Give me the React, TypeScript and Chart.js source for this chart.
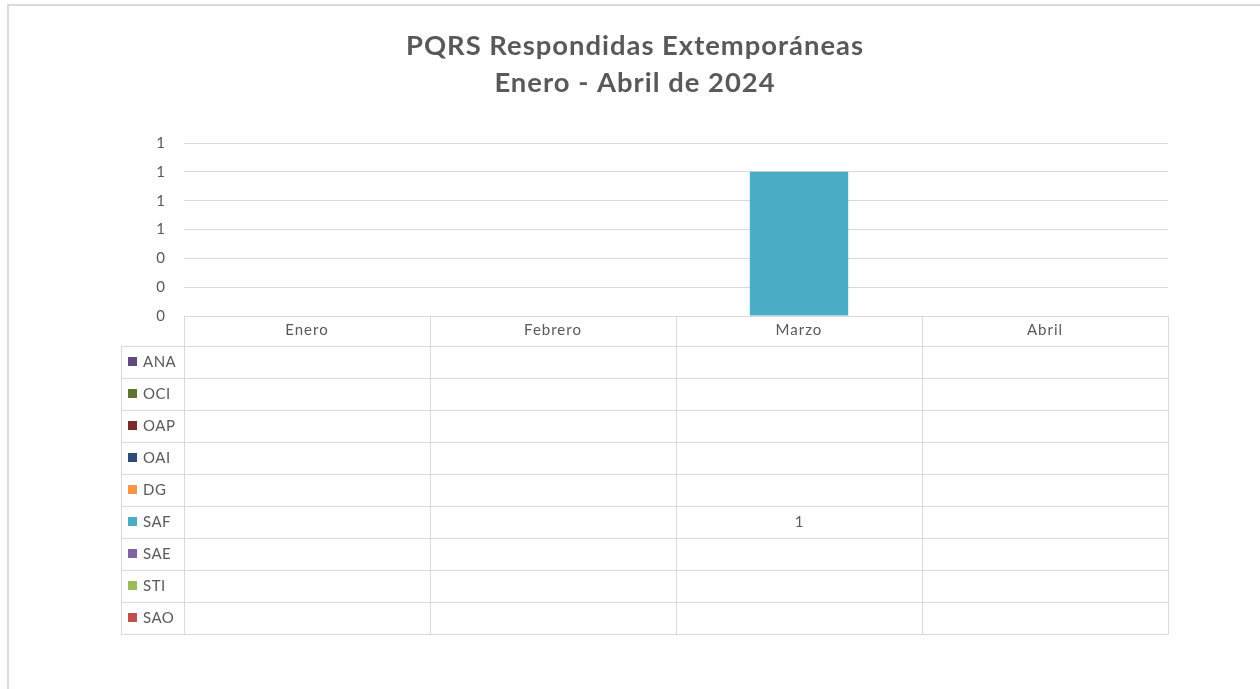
import React, { useEffect, useRef } from "react";
import { Chart, registerables } from "chart.js";

Chart.register(...registerables);

const months: string[] = ["Enero", "Febrero", "Marzo", "Abril"];
const seriesNames: string[] = ["ANA", "OCI", "OAP", "OAI", "DG", "SAF", "SAE", "STI", "SAO"];
const seriesColors: string[] = [
  "#5F4A7B",
  "#5E7530",
  "#772C2A",
  "#2C4D75",
  "#F79646",
  "#4BACC6",
  "#8064A2",
  "#9BBB59",
  "#C0504D",
];
const ANA: (number | null)[] = [null, null, null, null];
const OCI: (number | null)[] = [null, null, null, null];
const OAP: (number | null)[] = [null, null, null, null];
const OAI: (number | null)[] = [null, null, null, null];
const DG: (number | null)[] = [null, null, null, null];
const SAF: (number | null)[] = [null, null, 1, null];
const SAE: (number | null)[] = [null, null, null, null];
const STI: (number | null)[] = [null, null, null, null];
const SAO: (number | null)[] = [null, null, null, null];
const seriesValues = [ANA, OCI, OAP, OAI, DG, SAF, SAE, STI, SAO];
const titleLines: string[] = ["PQRS Respondidas Extemporáneas", "Enero - Abril de 2024"];
const yMin = 0;
const yMax = 1.2;
const yStep = 0.2;

const FONT = "Lato, 'Open Sans', sans-serif";
const TEXT = "#595959";
const GRID = "#d9d9d9";

const HEADER_H = 30;
const ROW_H = 32;
const LEGEND_W = 63;

const spacingPlugin = {
  id: "spacing",
  beforeLayout(chart: any) {
    chart.ctx.letterSpacing = "1px";
  },
  beforeDraw(chart: any) {
    chart.ctx.letterSpacing = "1px";
  },
};

const framePlugin = {
  id: "frame",
  beforeDraw(chart: any) {
    const ctx = chart.ctx;
    ctx.save();
    ctx.strokeStyle = GRID;
    ctx.lineWidth = 2;
    ctx.beginPath();
    ctx.moveTo(8, chart.height);
    ctx.lineTo(8, 5);
    ctx.lineTo(chart.width, 5);
    ctx.stroke();
    ctx.restore();
  },
};

const tablePlugin = {
  id: "dataTable",
  afterDraw(chart: any) {
    const ctx = chart.ctx;
    const { left, right, bottom } = chart.chartArea;
    const xs = chart.scales.x;
    const n = chart.data.labels.length;
    const cw = (right - left) / n;
    const top = bottom;
    const rowsTop = top + HEADER_H;
    const datasets = chart.data.datasets;
    const nRows = datasets.length;
    const tableBottom = rowsTop + nRows * ROW_H;
    const line = (x1: number, y1: number, x2: number, y2: number) => {
      ctx.beginPath();
      ctx.moveTo(x1, y1);
      ctx.lineTo(x2, y2);
      ctx.stroke();
    };
    ctx.save();
    ctx.strokeStyle = GRID;
    ctx.lineWidth = 1;
    line(left, Math.round(top) + 0.5, right, Math.round(top) + 0.5);
    for (let r = 0; r <= nRows; r++) {
      const y = Math.round(rowsTop + r * ROW_H) + 0.5;
      line(left - LEGEND_W, y, right, y);
    }
    for (let i = 0; i <= n; i++) {
      const X = Math.round(left + i * cw) + 0.5;
      line(X, top, X, tableBottom + 0.5);
    }
    const lx = Math.round(left - LEGEND_W) + 0.5;
    line(lx, rowsTop, lx, tableBottom + 0.5);

    ctx.textBaseline = "middle";
    datasets.forEach((ds: any, r: number) => {
      const cy = rowsTop + r * ROW_H + ROW_H / 2;
      ctx.fillStyle = ds.backgroundColor;
      ctx.fillRect(left - LEGEND_W + 7, cy - 5, 9, 9);
      ctx.fillStyle = TEXT;
      ctx.textAlign = "left";
      ctx.letterSpacing = "0.5px";
      ctx.font = `15px ${FONT}`;
      ctx.fillText(ds.label, left - LEGEND_W + 22, cy);
      ctx.letterSpacing = "0px";
      ctx.font = `15px ${FONT}`;
      ctx.textAlign = "center";
      ds.data.forEach((v: number | null, i: number) => {
        if (v !== null && v !== undefined) {
          ctx.fillText(String(v), xs.getPixelForValue(i), cy);
        }
      });
    });
    ctx.restore();
  },
};

export default function App() {
  const ref = useRef<HTMLCanvasElement | null>(null);
  useEffect(() => {
    if (!ref.current) return;
    const chart = new Chart(ref.current, {
      type: "bar",
      data: {
        labels: months,
        datasets: seriesNames.map((name, i) => ({
          label: name,
          data: seriesValues[i],
          backgroundColor: seriesColors[i],
          borderWidth: 0,
          barPercentage: 0.4,
          categoryPercentage: 1,
        })),
      },
      options: {
        responsive: false,
        animation: false,
        layout: { padding: { left: 10, right: 0, top: 0, bottom: 343 } },
        plugins: {
          legend: { display: false },
          tooltip: { enabled: false },
          title: {
            display: true,
            text: titleLines,
            color: TEXT,
            font: { family: FONT, size: 27.4, weight: "bold", lineHeight: 37 / 27.4 },
            padding: { top: 28, bottom: 41 },
          },
        },
        scales: {
          x: {
            stacked: true,
            grid: { display: false, drawTicks: false },
            border: { display: false },
            ticks: { color: TEXT, font: { family: FONT, size: 15 }, padding: 5.5 },
            afterFit: (s: any) => {
              s.height = HEADER_H;
            },
          },
          y: {
            stacked: true,
            min: yMin,
            max: yMax,
            grid: { color: GRID, drawTicks: false, lineWidth: 1 },
            border: { display: false },
            ticks: {
              stepSize: yStep,
              color: TEXT,
              font: { family: FONT, size: 15 },
              padding: 18,
              callback: (v: any) => Number(v).toFixed(0),
            },
            afterFit: (s: any) => {
              s.width = 174;
            },
          },
          yRight: {
            position: "right",
            display: true,
            grid: { display: false, drawTicks: false },
            border: { display: false },
            ticks: { display: false },
            afterFit: (s: any) => {
              s.width = 92;
            },
          },
        },
      },
      plugins: [spacingPlugin, framePlugin, tablePlugin],
    } as any);
    return () => chart.destroy();
  }, []);
  return (
    <div style={{ position: "fixed", left: 0, top: 0, width: 1260, height: 689, background: "#fff" }}>
      <canvas ref={ref} width={1260} height={689} />
    </div>
  );
}
